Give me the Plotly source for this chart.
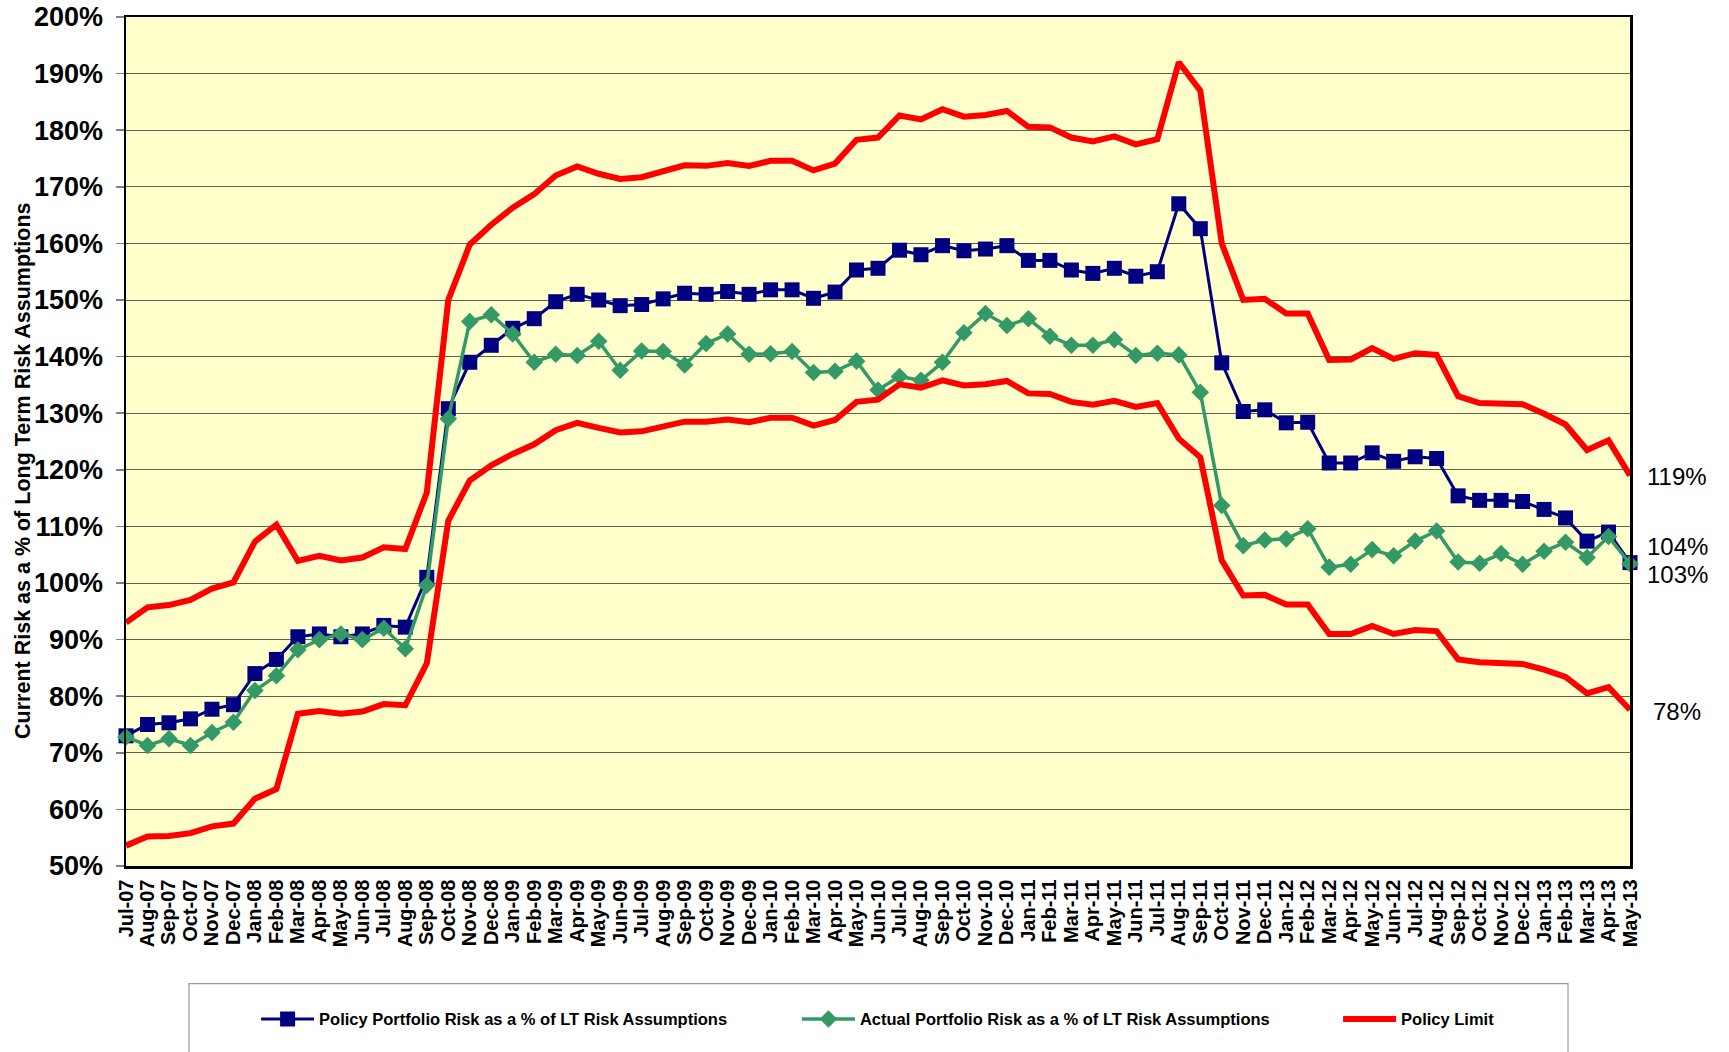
import plotly.graph_objects as go

months = ["Jul-07","Aug-07","Sep-07","Oct-07","Nov-07","Dec-07",
          "Jan-08","Feb-08","Mar-08","Apr-08","May-08","Jun-08","Jul-08","Aug-08","Sep-08","Oct-08","Nov-08","Dec-08",
          "Jan-09","Feb-09","Mar-09","Apr-09","May-09","Jun-09","Jul-09","Aug-09","Sep-09","Oct-09","Nov-09","Dec-09",
          "Jan-10","Feb-10","Mar-10","Apr-10","May-10","Jun-10","Jul-10","Aug-10","Sep-10","Oct-10","Nov-10","Dec-10",
          "Jan-11","Feb-11","Mar-11","Apr-11","May-11","Jun-11","Jul-11","Aug-11","Sep-11","Oct-11","Nov-11","Dec-11",
          "Jan-12","Feb-12","Mar-12","Apr-12","May-12","Jun-12","Jul-12","Aug-12","Sep-12","Oct-12","Nov-12","Dec-12",
          "Jan-13","Feb-13","Mar-13","Apr-13","May-13"]

policy = [73.0, 75.0, 75.3, 76.0, 77.7, 78.5, 84.0, 86.5, 90.5, 91.0, 90.5, 91.0, 92.5, 92.2, 101.0,
          130.8, 139.0, 142.0, 145.0, 146.7, 149.7, 151.0, 150.0, 149.0, 149.2, 150.2, 151.2, 151.0, 151.5, 151.0,
          151.8, 151.8, 150.3, 151.4, 155.3, 155.6, 158.8, 158.0, 159.6, 158.7, 159.0, 159.6,
          157.0, 157.0, 155.3, 154.7, 155.6, 154.2, 155.0, 167.0, 162.6, 138.9, 130.3, 130.6,
          128.3, 128.4, 121.2, 121.2, 123.0, 121.5, 122.3, 122.0, 115.4, 114.6, 114.6, 114.4,
          113.0, 111.5, 107.4, 109.0, 103.6]

actual = [72.8, 71.3, 72.5, 71.3, 73.6, 75.4, 81.0, 83.6, 88.2, 90.0, 91.0, 90.0, 92.0, 88.4, 99.6,
          129.0, 146.2, 147.4, 144.0, 139.0, 140.4, 140.2, 142.7, 137.6, 141.0, 140.9, 138.5, 142.3, 144.0, 140.4,
          140.5, 140.9, 137.2, 137.4, 139.2, 134.1, 136.5, 135.8, 139.0, 144.2, 147.6, 145.5,
          146.7, 143.6, 142.0, 142.0, 143.0, 140.2, 140.6, 140.3, 133.7, 113.7, 106.6, 107.6,
          107.8, 109.6, 102.8, 103.3, 105.9, 104.8, 107.4, 109.2, 103.7, 103.5, 105.2, 103.3,
          105.6, 107.2, 104.5, 108.2, 103.4]

limit_upper = [93.0, 95.7, 96.1, 97.0, 99.0, 100.1, 107.3, 110.3, 103.9, 104.8, 104.0, 104.5, 106.3, 106.0, 116.0,
               150.0, 159.8, 163.3, 166.3, 168.7, 172.0, 173.6, 172.3, 171.4, 171.7, 172.7, 173.8, 173.7, 174.2, 173.7,
               174.6, 174.6, 172.9, 174.1, 178.3, 178.7, 182.6, 181.9, 183.7, 182.4, 182.7, 183.4,
               180.6, 180.5, 178.7, 178.0, 178.9, 177.5, 178.4, 192.0, 187.0, 160.0, 150.0, 150.2,
               147.6, 147.6, 139.4, 139.5, 141.5, 139.6, 140.6, 140.3, 133.0, 131.8, 131.7, 131.6,
               129.9, 128.0, 123.5, 125.2, 119.0]

limit_lower = [53.6, 55.2, 55.3, 55.8, 57.0, 57.5, 61.9, 63.6, 76.9, 77.4, 76.9, 77.3, 78.6, 78.4, 85.8,
               111.0, 118.1, 120.8, 122.8, 124.5, 127.0, 128.3, 127.4, 126.6, 126.8, 127.6, 128.5, 128.5, 128.9, 128.4,
               129.2, 129.2, 127.8, 128.8, 132.0, 132.4, 135.1, 134.5, 135.8, 134.9, 135.1, 135.7,
               133.5, 133.4, 132.0, 131.5, 132.2, 131.1, 131.8, 125.5, 122.2, 104.0, 97.8, 97.9,
               96.2, 96.2, 91.0, 91.0, 92.4, 91.0, 91.7, 91.5, 86.5, 86.0, 85.9, 85.7,
               84.7, 83.4, 80.5, 81.6, 77.6]

y_ticks = list(range(50, 201, 10))
y_ticktext = [f"{v}%" for v in y_ticks]

end_labels = ["119%", "104%", "103%", "78%"]
end_label_y = [0.4582, 0.3765, 0.3432, 0.1817]

series_names = ["Policy Portfolio Risk as a % of LT Risk Assumptions",
                "Actual Portfolio Risk as a % of LT Risk Assumptions",
                "Policy Limit"]

NAVY = "#000080"
GREEN = "#339966"
RED = "#FF0000"

fig = go.Figure()
fig.add_trace(go.Scatter(x=months, y=policy, name=series_names[0], mode="lines+markers",
                         line=dict(color=NAVY, width=3),
                         marker=dict(symbol="square", size=15, color=NAVY),
                         cliponaxis=False, legend="legend"))
fig.add_trace(go.Scatter(x=months, y=actual, name=series_names[1], mode="lines+markers",
                         line=dict(color=GREEN, width=3.5),
                         marker=dict(symbol="diamond", size=13.5, color=GREEN),
                         cliponaxis=False, legend="legend2"))
fig.add_trace(go.Scatter(x=months, y=limit_upper, name=series_names[2], mode="lines",
                         line=dict(color=RED, width=6), cliponaxis=False, legend="legend3"))
fig.add_trace(go.Scatter(x=months, y=limit_lower, name=series_names[2], mode="lines",
                         line=dict(color=RED, width=6), showlegend=False, cliponaxis=False,
                         legend="legend3"))

annotations = []
for txt, yp in zip(end_labels, end_label_y):
    annotations.append(dict(text=txt, xref="paper", yref="paper", x=1.0313, y=yp,
                            xanchor="center", yanchor="middle", showarrow=False,
                            font=dict(family="Liberation Sans, Arial", size=24, color="black")))
annotations.append(dict(text="Current Risk as a % of Long Term Risk Assumptions",
                        xref="paper", yref="paper", x=-0.0685, y=0.4653, textangle=-90,
                        xanchor="center", yanchor="middle", showarrow=False,
                        font=dict(family="Liberation Sans, Arial", size=21.5, color="black", weight="bold")))

legend_font = dict(family="Liberation Sans, Arial", size=16.5, color="black", weight="bold")
legend_common = dict(orientation="h", xanchor="left", y=-0.1805, yanchor="middle",
                     font=legend_font, itemwidth=53, bgcolor="rgba(0,0,0,0)", borderwidth=0)

fig.update_layout(
    width=1729, height=1052,
    margin=dict(l=126, r=99, t=17, b=186, autoexpand=False),
    paper_bgcolor="white",
    plot_bgcolor="#FFFFCC",
    showlegend=True,
    legend=dict(x=0.0865, **legend_common),
    legend2=dict(x=0.4461, **legend_common),
    legend3=dict(x=0.8059, **legend_common),
    annotations=annotations,
    shapes=[dict(type="rect", xref="paper", yref="paper", x0=0.0419, x1=0.9588, y0=-0.1385, y1=-0.2297,
                 line=dict(color="#9a9a9a", width=1.2), fillcolor="rgba(0,0,0,0)", layer="below")],
    xaxis=dict(type="category", range=[0, len(months) - 1], showgrid=False, zeroline=False,
               automargin=False,
               showline=True, mirror=True, linecolor="black", linewidth=2.5,
               tickmode="array", tickvals=months, ticktext=months,
               ticks="", tickangle=-90, ticklabelstandoff=3,
               tickfont=dict(family="Liberation Sans, Arial", size=20, color="black", weight="bold")),
    yaxis=dict(range=[50, 200], tickmode="array", tickvals=y_ticks, ticktext=y_ticktext,
               automargin=False,
               showgrid=True, gridcolor="#5f5f50", gridwidth=1, zeroline=False,
               showline=True, mirror=True, linecolor="black", linewidth=2.5,
               ticks="outside", ticklen=8, tickcolor="#808080", tickwidth=1.5,
               ticklabelstandoff=7, ticklabeloverflow="allow",
               tickfont=dict(family="Liberation Sans Narrow, Arial Narrow, Liberation Sans, Arial",
                             size=27, color="black", weight="bold")),
)

fig.write_html("out.html",
               config={"displayModeBar": False, "staticPlot": True},
               post_script="document.body.style.margin='0';document.body.style.overflow='hidden';")
